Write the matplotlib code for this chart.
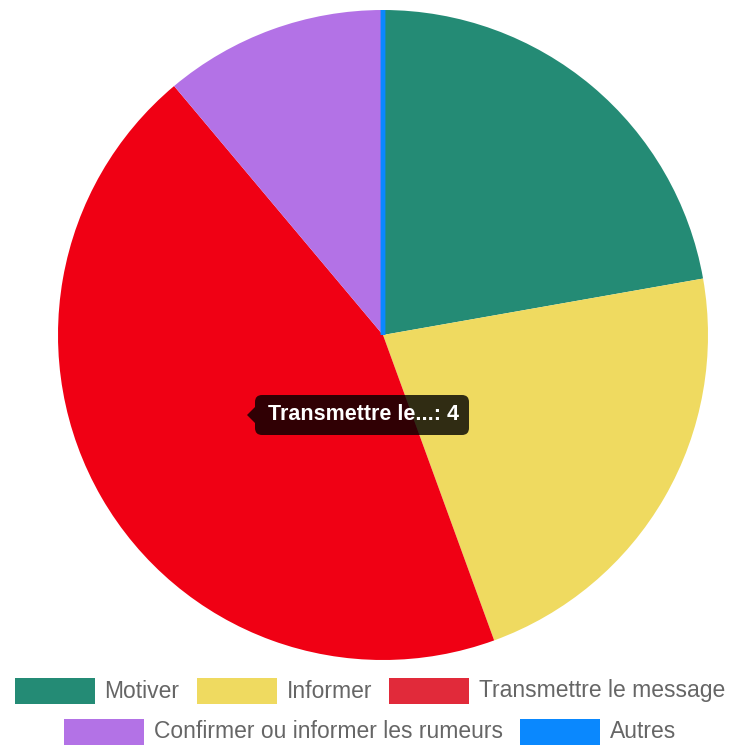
import matplotlib.pyplot as plt
from matplotlib.patches import Rectangle, FancyBboxPatch, Polygon

# Données du graphique
etiquettes = ['Motiver', 'Informer', 'Transmettre le message',
              'Confirmer ou informer les rumeurs', 'Autres']
valeurs = [2, 2, 4, 1, 0]
couleurs = ['#248b75', '#efda60', '#e12a3a', '#b372e6', '#0a88fe']
couleur_survol = '#f00014'   # tranche survolée
indice_survol = 2
lignes_legende = [[0, 1, 2], [3, 4]]

W, H = 740, 745
fig = plt.figure(figsize=(W / 100, H / 100), dpi=100)
ax = fig.add_axes([0, 0, 1, 1])
ax.set_xlim(0, W)
ax.set_ylim(0, H)
ax.set_aspect('equal')
ax.axis('off')

plt.rcParams['font.family'] = ['Liberation Sans', 'DejaVu Sans']

# Camembert
couleurs_tranches = list(couleurs)
couleurs_tranches[indice_survol] = couleur_survol
cx, cy, rayon = 383, H - 335, 325
tranches, _ = ax.pie(valeurs, colors=couleurs_tranches, startangle=90,
                     counterclock=False, center=(cx, cy), radius=rayon,
                     wedgeprops=dict(linewidth=0))
ax.set_xlim(0, W)
ax.set_ylim(0, H)
for t, v, c in zip(tranches, valeurs, couleurs_tranches):
    if v == 0:
        # une valeur nulle reste visible sous forme de trait
        t.set_edgecolor(c)
        t.set_linewidth(3.5)
        t.set_joinstyle('round')

# Infobulle sur la tranche survolée
texte = etiquettes[indice_survol][:14] + '...: ' + str(valeurs[indice_survol])
bx0, bx1, by0, by1 = 255, 469, H - 435, H - 395
ax.add_patch(FancyBboxPatch((bx0, by0), bx1 - bx0, by1 - by0,
                            boxstyle='round,pad=0,rounding_size=7',
                            facecolor='black', alpha=0.8, linewidth=0, zorder=5))
ym = (by0 + by1) / 2
ax.add_patch(Polygon([[bx0, ym + 8], [bx0 - 8, ym], [bx0, ym - 8]],
                     closed=True, facecolor='black', alpha=0.8,
                     linewidth=0, zorder=5))
ax.text(268, ym, texte, color='white', fontsize=15.5, fontweight='bold',
        ha='left', va='center', zorder=6)

# Légende centrée sur deux lignes
fig.canvas.draw()
rendu = fig.canvas.get_renderer()
boite_l, boite_h, ecart_txt, ecart_item = 80, 26, 10, 17
taille_legende = 16.5
for ligne, y_pix in zip(lignes_legende, [691, 732]):
    y = H - y_pix
    largeurs = []
    for i in ligne:
        tmp = ax.text(0, 0, etiquettes[i], fontsize=taille_legende)
        largeurs.append(tmp.get_window_extent(rendu).width)
        tmp.remove()
    total = sum(boite_l + ecart_txt + w for w in largeurs) + ecart_item * (len(ligne) - 1)
    x = W / 2 - total / 2
    for i, w in zip(ligne, largeurs):
        ax.add_patch(Rectangle((x, y - boite_h / 2), boite_l, boite_h,
                               facecolor=couleurs[i], edgecolor='none'))
        ax.text(x + boite_l + ecart_txt, y, etiquettes[i], color='#666666',
                fontsize=taille_legende, ha='left', va='center')
        x += boite_l + ecart_txt + w + ecart_item

fig.savefig('out.png', dpi=100)
